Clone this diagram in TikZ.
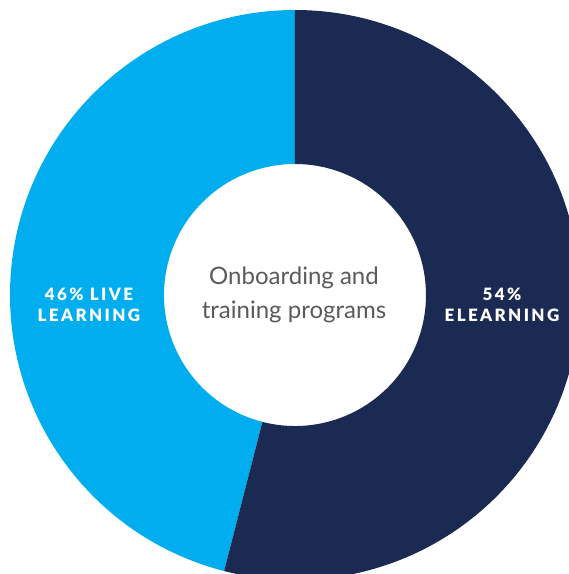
\documentclass[tikz,border=0pt]{standalone}
\usepackage{fontspec}
\setmainfont{Lato}
\newfontfamily\labelfont[LetterSpace=14, BoldFont={Lato Black}]{Lato}
\definecolor{navy}{HTML}{1B2A52}
\definecolor{sky}{HTML}{00ADEE}
\definecolor{captiongray}{HTML}{5A5A5A}

\begin{document}
\begin{tikzpicture}[
    x=1pt, y=1pt,
    pctlabel/.style={text=white, align=center,
        font=\labelfont\bfseries\fontsize{17}{21}\selectfont},
    caption/.style={text=captiongray, align=center,
        font=\fontsize{24}{34}\selectfont}
]

\useasboundingbox (-295,295) rectangle (274,-279);
\clip (-295,295) rectangle (274,-279);

% Live learning slice (46%)
\fill[sky] (90:285) arc[start angle=90, end angle=255.6, radius=285]
    -- (255.6:131) arc[start angle=255.6, end angle=90, radius=131] -- cycle;

% eLearning slice (54%)
\fill[navy] (90:285) arc[start angle=90, end angle=-104.4, radius=285]
    -- (-104.4:131) arc[start angle=-104.4, end angle=90, radius=131] -- cycle;

% Labels
\node[caption] (title) at (-1,0) {Onboarding and\\training programs};
\node[pctlabel] (live) at (-206,-10) {46\% LIVE\\LEARNING};
\node[pctlabel] (elearn) at (207,-10) {54\%\\ELEARNING};

\end{tikzpicture}
\end{document}
